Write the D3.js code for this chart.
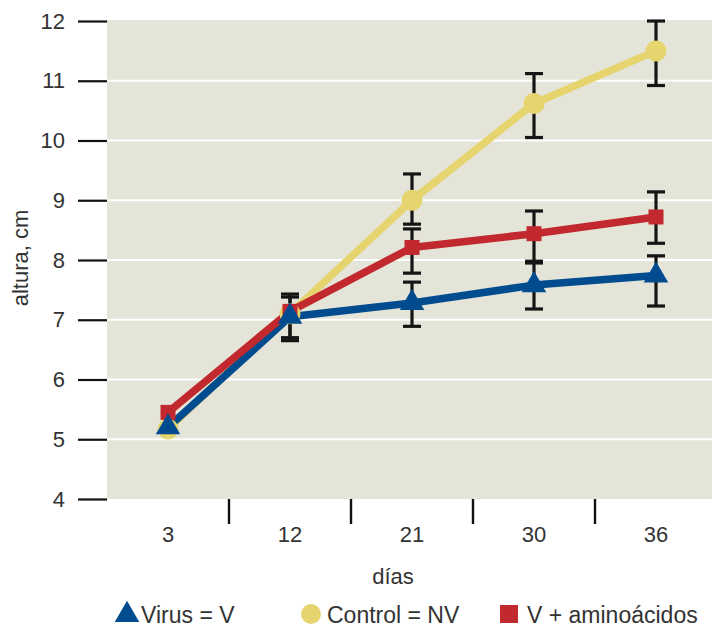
<!DOCTYPE html>
<html>
<head>
<meta charset="utf-8">
<script src="https://cdn.jsdelivr.net/npm/d3@7"></script>
<style>
  html, body { margin: 0; padding: 0; background: #fff; }
  svg { display: block; }
  text { font-family: "Liberation Sans", Arial, sans-serif; fill: #333; }
</style>
</head>
<body>
<svg id="chart" width="712" height="627"></svg>
<script>
// Plant height (cm) by day for three treatments, with error bars
const days = ["3", "12", "21", "30", "36"];
const yTicks = [4, 5, 6, 7, 8, 9, 10, 11, 12];

const virus      = [5.20, 7.05, 7.28, 7.58, 7.74];
const virusLow   = [null, 6.65, 6.89, 7.18, 7.23];
const virusHigh  = [null, 7.38, 7.63, 7.95, 8.07];

const control     = [5.17, 7.10, 9.00, 10.62, 11.50];
const controlLow  = [null, null, 8.60, 10.05, 10.92];
const controlHigh = [null, null, 9.44, 11.12, 12.00];

const amino     = [5.45, 7.14, 8.21, 8.44, 8.72];
const aminoLow  = [null, 6.70, 7.78, 7.98, 8.28];
const aminoHigh = [null, 7.43, 8.52, 8.82, 9.14];

const seriesNames = ["Virus = V", "Control = NV", "V + aminoácidos"];

const colors = { virus: "#004c8f", control: "#e6d46f", amino: "#c1292e" };

const svg = d3.select("#chart");

const x = d3.scaleBand().domain(days).range([107, 717]);
const y = d3.scaleLinear().domain([4, 12]).range([499, 21]);
const cx = d => x(d) + x.bandwidth() / 2;

// plot background
svg.append("rect")
  .attr("x", 107).attr("y", y(12) - 1)
  .attr("width", 712 - 107).attr("height", y(4) - y(12) + 1)
  .attr("fill", "#e4e4d8");

// horizontal grid lines
svg.append("g").selectAll("line")
  .data(yTicks.filter(t => t > 4 && t < 12))
  .join("line")
  .attr("x1", 107).attr("x2", 712)
  .attr("y1", d => y(d)).attr("y2", d => y(d))
  .attr("stroke", "#fff").attr("stroke-width", 2.2);

// y axis: ticks and labels
const yAxis = d3.axisLeft(y).tickValues(yTicks).tickSize(29).tickPadding(13).tickFormat(d3.format("d"));
const gy = svg.append("g").attr("transform", "translate(107,0)").call(yAxis);
gy.select(".domain").remove();
gy.selectAll(".tick line").attr("stroke", "#111").attr("stroke-width", 2.2);
gy.selectAll(".tick text").attr("font-size", 22).attr("fill", "#333")
  .style("font-family", "'Liberation Sans', Arial, sans-serif");

// x axis: separators between day groups and centred labels
const gx = svg.append("g");
gx.selectAll("line")
  .data(days.slice(1))
  .join("line")
  .attr("x1", d => x(d)).attr("x2", d => x(d))
  .attr("y1", y(4)).attr("y2", y(4) + 25)
  .attr("stroke", "#111").attr("stroke-width", 2.4);
gx.selectAll("text")
  .data(days)
  .join("text")
  .attr("x", d => cx(d)).attr("y", 542)
  .attr("text-anchor", "middle").attr("font-size", 22)
  .text(d => d);

// axis titles
svg.append("text")
  .attr("x", 393).attr("y", 584)
  .attr("text-anchor", "middle").attr("font-size", 22)
  .text("días");
svg.append("text")
  .attr("transform", "translate(28,258) rotate(-90)")
  .attr("text-anchor", "middle").attr("font-size", 22)
  .text("altura, cm");

const series = [
  { key: "control", values: control, low: controlLow, high: controlHigh },
  { key: "virus", values: virus, low: virusLow, high: virusHigh },
  { key: "amino", values: amino, low: aminoLow, high: aminoHigh }
];

// error bars
const capW = 9;
const eb = svg.append("g").attr("stroke", "#151515").attr("stroke-width", 3.2);
series.forEach(s => {
  days.forEach((d, i) => {
    if (s.low[i] == null) return;
    const xc = cx(d);
    eb.append("line").attr("x1", xc).attr("x2", xc).attr("y1", y(s.low[i])).attr("y2", y(s.high[i]));
    eb.append("line").attr("x1", xc - capW).attr("x2", xc + capW).attr("y1", y(s.low[i])).attr("y2", y(s.low[i]));
    eb.append("line").attr("x1", xc - capW).attr("x2", xc + capW).attr("y1", y(s.high[i])).attr("y2", y(s.high[i]));
  });
});

// lines
const line = d3.line().x((v, i) => cx(days[i])).y(v => y(v));
series.forEach(s => {
  svg.append("path")
    .attr("d", line(s.values))
    .attr("fill", "none")
    .attr("stroke", colors[s.key])
    .attr("stroke-width", 7.5)
    .attr("stroke-linejoin", "round");
});

// markers
const tri = d3.symbol().type(d3.symbolTriangle).size(260);
svg.append("g").selectAll("circle")
  .data(control).join("circle")
  .attr("cx", (v, i) => cx(days[i])).attr("cy", v => y(v))
  .attr("r", 10.5).attr("fill", colors.control);
svg.append("g").selectAll("rect")
  .data(amino).join("rect")
  .attr("x", (v, i) => cx(days[i]) - 7.5).attr("y", v => y(v) - 7.5)
  .attr("width", 15).attr("height", 15).attr("fill", colors.amino);
svg.append("g").selectAll("path")
  .data(virus).join("path")
  .attr("d", tri)
  .attr("transform", (v, i) => `translate(${cx(days[i])},${y(v)})`)
  .attr("fill", colors.virus);

// legend
const legend = svg.append("g");
const legendItems = [
  { name: seriesNames[0], key: "virus", mx: 127, tx: 141 },
  { name: seriesNames[1], key: "control", mx: 311, tx: 327 },
  { name: seriesNames[2], key: "amino", mx: 509, tx: 527 }
];
legendItems.forEach(it => {
  const my = 614;
  if (it.key === "virus") {
    legend.append("path").attr("d", tri).attr("transform", `translate(${it.mx},${my + 1})`).attr("fill", colors.virus);
  } else if (it.key === "control") {
    legend.append("circle").attr("cx", it.mx).attr("cy", my).attr("r", 10).attr("fill", colors.control);
  } else {
    legend.append("rect").attr("x", it.mx - 9).attr("y", my - 9).attr("width", 18).attr("height", 18).attr("fill", colors.amino);
  }
  legend.append("text").attr("x", it.tx).attr("y", 623).attr("font-size", 23).text(it.name);
});
</script>
</body>
</html>
